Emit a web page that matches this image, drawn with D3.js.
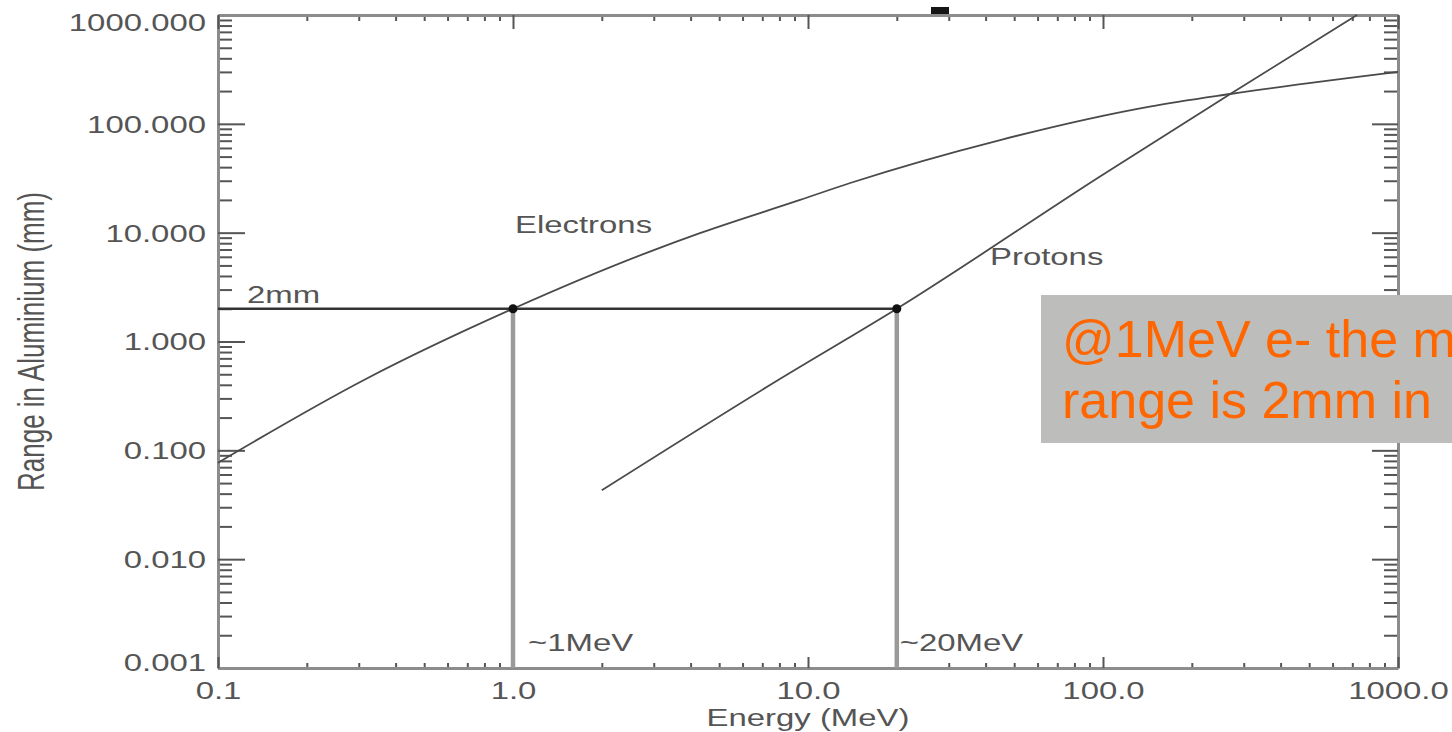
<!DOCTYPE html>
<html>
<head>
<meta charset="utf-8">
<script src="https://cdn.jsdelivr.net/npm/d3@7"></script>
<style>
  html, body { margin: 0; padding: 0; background: #ffffff; overflow: hidden; }
  svg { display: block; font-family: "Liberation Sans", Arial, Helvetica, sans-serif; }
</style>
</head>
<body>
<svg id="chart" width="1452" height="732"></svg>
<script>
// Range of electrons and protons in aluminium versus kinetic energy
const electronEnergy = [0.1, 0.316, 1, 2.91, 4.3, 9.4, 13.9, 44.8, 144, 270, 1000];   // MeV
const electronRange  = [0.077, 0.45, 2.0, 6.7, 9.9, 20, 28.6, 71, 144, 188, 300];      // mm
const protonEnergy   = [2, 8, 20, 98, 270, 726];                                         // MeV
const protonRange    = [0.043, 0.45, 2.0, 33, 188, 1000];                                // mm

const xTickValues = [0.1, 1, 10, 100, 1000];
const xTickLabels = ["0.1", "1.0", "10.0", "100.0", "1000.0"];
const yTickValues = [0.001, 0.01, 0.1, 1, 10, 100, 1000];
const yTickLabels = ["0.001", "0.010", "0.100", "1.000", "10.000", "100.000", "1000.000"];

const markerEnergy = [1, 20];             // MeV
const markerLabels = ["~1MeV", "~20MeV"];
const markerRange = 2;                    // mm
const markerRangeLabel = "2mm";

const noteLines = ["@1MeV e- the m", "range is 2mm in"];

// ---- layout ----
const W = 1452, H = 732;
const plot = { left: 218, right: 1398, top: 15, bottom: 668 };
const stretch = 1.4;          // wide lettering of the plot texts
const plotFont = 23.5;
const textColor = "#555";
const frameColor = "#8c8c8c";
const tickColor = "#555";

const svg = d3.select("#chart");

const x = d3.scaleLog().domain([0.1, 1000]).range([plot.left, plot.right]);
const y = d3.scaleLog().domain([0.001, 1000]).range([plot.bottom, plot.top]);

// minor ticks 2..9 in every decade
function minorTicks(lo, hi) {
  const out = [];
  for (let d = lo; d < hi; d *= 10) {
    for (let k = 2; k <= 9; k++) out.push(+(k * d).toPrecision(3));
  }
  return out;
}
const xMinor = minorTicks(0.1, 1000);
const yMinor = minorTicks(0.001, 1000);

function styleAxis(sel, showDomain) {
  sel.selectAll(".tick line").attr("stroke", tickColor).attr("stroke-width", 2);
  if (showDomain) {
    sel.select(".domain").attr("stroke", frameColor).attr("stroke-width", 3);
  } else {
    sel.select(".domain").remove();
  }
  sel.selectAll("text").attr("fill", textColor);
}

// minor ticks on all four sides
const minorDefs = [
  { axis: d3.axisLeft(y),   vals: yMinor, size: -14, t: `translate(${plot.left},0)` },
  { axis: d3.axisRight(y),  vals: yMinor, size: -14, t: `translate(${plot.right},0)` },
  { axis: d3.axisBottom(x), vals: xMinor, size: -5,  t: `translate(0,${plot.bottom})` },
  { axis: d3.axisTop(x),    vals: xMinor, size: -6,  t: `translate(0,${plot.top})` }
];
minorDefs.forEach(m => {
  const g = svg.append("g").attr("transform", m.t)
    .call(m.axis.tickValues(m.vals).tickSize(m.size).tickSizeOuter(0).tickFormat(""));
  styleAxis(g, false);
});

// major ticks + frame
const leftAxis = svg.append("g").attr("transform", `translate(${plot.left},0)`)
  .call(d3.axisLeft(y).tickValues(yTickValues).tickSize(-27).tickSizeOuter(0)
    .tickFormat((d, i) => yTickLabels[i]));
styleAxis(leftAxis, true);
leftAxis.selectAll("text")
  .attr("font-size", plotFont)
  .attr("font-family", "Liberation Sans, Arial, sans-serif")
  .attr("x", -12 / stretch)
  .attr("dy", d => d === 1000 ? "0.68em" : (d === 0.001 ? "0.1em" : "0.36em"))
  .attr("transform", `scale(${stretch},1)`);

const rightAxis = svg.append("g").attr("transform", `translate(${plot.right},0)`)
  .call(d3.axisRight(y).tickValues(yTickValues).tickSize(-26).tickSizeOuter(0).tickFormat(""));
styleAxis(rightAxis, true);

const bottomAxis = svg.append("g").attr("transform", `translate(0,${plot.bottom})`)
  .call(d3.axisBottom(x).tickValues(xTickValues).tickSize(-11).tickSizeOuter(0)
    .tickFormat((d, i) => xTickLabels[i]));
styleAxis(bottomAxis, true);
bottomAxis.selectAll("text")
  .attr("font-size", plotFont)
  .attr("font-family", "Liberation Sans, Arial, sans-serif")
  .attr("y", 31).attr("dy", null)
  .attr("transform", `scale(${stretch},1)`);

const topAxis = svg.append("g").attr("transform", `translate(0,${plot.top})`)
  .call(d3.axisTop(x).tickValues(xTickValues).tickSize(-14).tickSizeOuter(0).tickFormat(""));
styleAxis(topAxis, true);

// small marker above the top frame
svg.append("rect").attr("x", 931).attr("y", 7).attr("width", 18).attr("height", 7)
  .attr("fill", "#151515");

// axis titles
svg.append("g").attr("transform", `translate(${(plot.left + plot.right) / 2},726) scale(${stretch},1)`)
  .append("text").attr("text-anchor", "middle").attr("font-size", plotFont)
  .attr("fill", textColor).text("Energy (MeV)");

svg.append("g").attr("transform", `translate(44,${(plot.top + plot.bottom) / 2}) rotate(-90) scale(1,${stretch})`)
  .append("text").attr("text-anchor", "middle").attr("font-size", 26)
  .attr("fill", textColor).text("Range in Aluminium (mm)");

// reference lines at the 2 mm range
const markerX = markerEnergy.map(e => x(e));
svg.selectAll("line.drop").data(markerEnergy).join("line")
  .attr("class", "drop")
  .attr("x1", d => x(d)).attr("x2", d => x(d))
  .attr("y1", y(markerRange)).attr("y2", plot.bottom)
  .attr("stroke", "#9a9a9a").attr("stroke-width", 4.5);

svg.append("line")
  .attr("x1", plot.left).attr("x2", d3.max(markerX))
  .attr("y1", y(markerRange)).attr("y2", y(markerRange))
  .attr("stroke", "#333").attr("stroke-width", 2.5);

// range curves
const line = d3.line().x(d => x(d[0])).y(d => y(d[1])).curve(d3.curveMonotoneX);
const curves = [
  d3.zip(electronEnergy, electronRange),
  d3.zip(protonEnergy, protonRange)
];
svg.selectAll("path.range").data(curves).join("path")
  .attr("class", "range")
  .attr("d", line)
  .attr("fill", "none")
  .attr("stroke", "#4a4a4a")
  .attr("stroke-width", 1.8);

// crossing points
svg.selectAll("circle.hit").data(markerEnergy).join("circle")
  .attr("class", "hit")
  .attr("cx", d => x(d)).attr("cy", y(markerRange)).attr("r", 4.5)
  .attr("fill", "#111");

// annotations
function plotText(px, py, str) {
  svg.append("g").attr("transform", `translate(${px},${py}) scale(${stretch},1)`)
    .append("text").attr("font-size", plotFont).attr("fill", textColor).text(str);
}
plotText(515, 233, "Electrons");
plotText(990, 265, "Protons");
plotText(247, 303, markerRangeLabel);
const labelOffsets = [15, 3];
markerEnergy.forEach((e, i) => plotText(x(e) + labelOffsets[i], 651, markerLabels[i]));

// highlighted note
const note = svg.append("g");
note.append("rect").attr("x", 1041).attr("y", 295).attr("width", W - 1041).attr("height", 148)
  .attr("fill", "#bdbebc");
noteLines.forEach((s, i) => {
  note.append("text").attr("x", 1062).attr("y", 357 + i * 61)
    .attr("font-size", 52).attr("fill", "#ff6600").text(s);
});
</script>
</body>
</html>
